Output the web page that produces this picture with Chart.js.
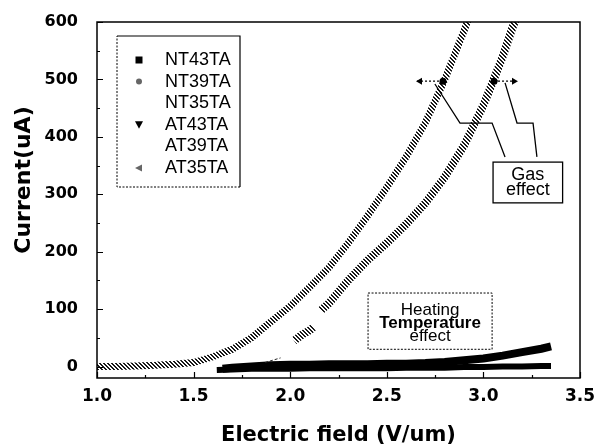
<!DOCTYPE html>
<html>
<head>
<meta charset="utf-8">
<script src="https://cdn.jsdelivr.net/npm/chart.js@4.4.1/dist/chart.umd.min.js"></script>
<style>
  html, body { margin: 0; padding: 0; background: #fff; }
  #wrap { width: 607px; height: 448px; }
</style>
</head>
<body>
<div id="wrap"><canvas id="chart"></canvas></div>
<script>
// axis setup
const xTicks = [1.0, 1.5, 2.0, 2.5, 3.0, 3.5];
const yTicks = [0, 100, 200, 300, 400, 500, 600];
const xTitle = 'Electric field (V/um)';
const yTitle = 'Current(uA)';
const seriesNames = ['NT43TA', 'NT39TA', 'NT35TA', 'AT43TA', 'AT39TA', 'AT35TA'];

// series (x in V/um, y in uA)
const nt43X = [1.62, 1.7, 1.8, 1.9, 2.0, 2.1, 2.2, 2.3, 2.4, 2.5, 2.6, 2.7, 2.8, 2.9, 3.0, 3.1, 3.2, 3.3, 3.35];
const nt43Y = [-6, -5, -4, -4, -4, -3, -3, -3, -3, -3, -2, -2, -2, -1, -1, 0, 0, 1, 1];

const nt39X = [2.02, 2.06, 2.1, 2.12, 2.14, 2.16, 2.2, 2.3, 2.4, 2.5, 2.6, 2.7, 2.8, 2.9, 3.0, 3.05, 3.1, 3.15, 3.18];
const nt39Y = [45, 55, 63, 68, null, 98, 110, 150, 185, 215, 248, 285, 330, 385, 455, 497, 540, 590, 615];

const nt35X = [1.87, 1.91, 1.95];
const nt35Y = [7, 11, 15];

const at43X = [1.65, 1.7, 1.8, 1.9, 2.0, 2.1, 2.2, 2.3, 2.4, 2.5, 2.6, 2.7, 2.8, 2.9, 3.0, 3.1, 3.2, 3.3, 3.35];
const at43Y = [-4, -2, 0, 2, 3, 3, 4, 4, 4, 5, 5, 6, 8, 11, 14, 19, 25, 31, 35];

const at39X = [];
const at39Y = [];

const at35X = [1.0, 1.1, 1.2, 1.3, 1.4, 1.5, 1.6, 1.7, 1.8, 1.9, 2.0, 2.1, 2.2, 2.3, 2.4, 2.5, 2.6, 2.7, 2.8, 2.9, 2.93];
const at35Y = [0, 0, 1, 2, 4, 7, 17, 30, 50, 78, 105, 138, 172, 215, 262, 312, 365, 425, 500, 585, 612];

function pts(xs, ys) {
    return xs.map((x, i) => ({ x: x, y: ys[i] }));
}

// hatched grey look of the scanned curves (stripes across the rising curves)
function hatch() {
    const c = document.createElement('canvas');
    c.width = 4; c.height = 4;
    const g = c.getContext('2d');
    g.fillStyle = '#ffffff';
    g.fillRect(0, 0, 4, 4);
    g.fillStyle = '#1a1a1a';
    for (let i = 0; i < 4; i++) {
        g.fillRect(i, i, 1, 1);
        g.fillRect((i + 1) % 4, i, 1, 1);
    }
    return g.createPattern(c, 'repeat');
}
const hatchPattern = hatch();

const boldFont = 'DejaVu Sans';
const textFont = '"Liberation Sans", Arial, sans-serif';

// frame, inward ticks, y title
const framePlugin = {
    id: 'frame',
    afterDatasetsDraw(chart) {
        const { ctx, chartArea: a, scales: { x, y } } = chart;
        ctx.save();
        ctx.strokeStyle = '#000';
        ctx.lineWidth = 1.5;
        ctx.strokeRect(a.left, a.top, a.right - a.left, a.bottom - a.top);
        ctx.lineWidth = 1.2;
        ctx.beginPath();
        for (let v = 1.0; v <= 3.5001; v += 0.25) {
            const px = Math.round(x.getPixelForValue(v)) + 0.5;
            const len = (Math.round(v * 4) % 2 === 0) ? 6 : 3;
            ctx.moveTo(px, a.bottom); ctx.lineTo(px, a.bottom - len);
        }
        for (let v = 0; v <= 600; v += 50) {
            const py = Math.round(y.getPixelForValue(v)) + 0.5;
            const len = (v % 100 === 0) ? 6 : 3;
            ctx.moveTo(a.left, py); ctx.lineTo(a.left + len, py);
        }
        ctx.stroke();
        ctx.translate(24, 180);
        ctx.rotate(-Math.PI / 2);
        ctx.fillStyle = '#000';
        ctx.font = 'bold 22px ' + boldFont;
        ctx.textAlign = 'center';
        ctx.textBaseline = 'middle';
        ctx.fillText(yTitle, 0, 0);
        ctx.restore();
    }
};

function marker(ctx, style, cx, cy) {
    ctx.save();
    ctx.fillStyle = style === 'rect' || style === 'tri' ? '#000' : '#666';
    ctx.beginPath();
    if (style === 'rect') {
        ctx.rect(cx - 3.5, cy - 3.5, 7, 7);
    } else if (style === 'circle') {
        ctx.arc(cx, cy, 3, 0, Math.PI * 2);
    } else if (style === 'tri') {
        ctx.moveTo(cx - 4, cy - 3.5); ctx.lineTo(cx + 4, cy - 3.5); ctx.lineTo(cx, cy + 4);
    } else if (style === 'ltri') {
        ctx.moveTo(cx - 4, cy); ctx.lineTo(cx + 3, cy - 3.5); ctx.lineTo(cx + 3, cy + 3.5);
    }
    if (style !== 'none') ctx.fill();
    ctx.restore();
}

// legend box inside the plot
const legendPlugin = {
    id: 'boxLegend',
    afterDatasetsDraw(chart) {
        const { ctx, chartArea: a } = chart;
        const left = a.left + 20, top = a.top + 14, w = 123, h = 151;
        ctx.save();
        ctx.fillStyle = '#fff';
        ctx.fillRect(left, top, w, h);
        ctx.strokeStyle = '#000';
        ctx.lineWidth = 1.2;
        ctx.beginPath();
        ctx.moveTo(left, top); ctx.lineTo(left + w, top); ctx.lineTo(left + w, top + h);
        ctx.stroke();
        ctx.setLineDash([2, 1.5]);
        ctx.lineWidth = 1;
        ctx.beginPath();
        ctx.moveTo(left + w, top + h); ctx.lineTo(left, top + h); ctx.lineTo(left, top);
        ctx.stroke();
        ctx.setLineDash([]);
        ctx.font = '18px ' + textFont;
        ctx.fillStyle = '#000';
        ctx.textBaseline = 'middle';
        chart.data.datasets.forEach((ds, i) => {
            const cy = top + 24 + i * 21.6;
            marker(ctx, ds.legendMarker, left + 22, cy);
            ctx.fillText(ds.label, left + 48, cy);
        });
        ctx.restore();
    }
};

// annotation positions in data units
const gasBox = { x0: 3.05, x1: 3.41, y0: 285, y1: 356 };
const gasDots = [{ x: 2.791, y: 497, tip: 2.651 }, { x: 3.055, y: 497, tip: 3.179 }];
const gasLine1 = [[2.749, 492], [2.879, 424], [3.045, 424], [3.112, 365]];
const gasLine2 = [[3.112, 494], [3.174, 424], [3.257, 424], [3.277, 365]];
const heatBox = { x0: 2.403, x1: 3.045, y0: 30, y1: 128 };

const notePlugin = {
    id: 'notes',
    afterDatasetsDraw(chart) {
        const { ctx, scales: { x, y } } = chart;
        const X = v => x.getPixelForValue(v), Y = v => y.getPixelForValue(v);
        ctx.save();
        ctx.strokeStyle = '#000';
        // gas effect box
        ctx.lineWidth = 1.3;
        ctx.fillStyle = '#fff';
        ctx.fillRect(X(gasBox.x0), Y(gasBox.y1), X(gasBox.x1) - X(gasBox.x0), Y(gasBox.y0) - Y(gasBox.y1));
        ctx.strokeRect(X(gasBox.x0), Y(gasBox.y1), X(gasBox.x1) - X(gasBox.x0), Y(gasBox.y0) - Y(gasBox.y1));
        ctx.fillStyle = '#000';
        ctx.font = '18px ' + textFont;
        ctx.textAlign = 'center';
        ctx.textBaseline = 'middle';
        const gx = (X(gasBox.x0) + X(gasBox.x1)) / 2;
        ctx.fillText('Gas', gx, Y(gasBox.y1) + 13);
        ctx.fillText('effect', gx, Y(gasBox.y1) + 28);
        // connector lines
        [gasLine1, gasLine2].forEach(l => {
            ctx.beginPath();
            l.forEach((p, i) => i ? ctx.lineTo(X(p[0]), Y(p[1])) : ctx.moveTo(X(p[0]), Y(p[1])));
            ctx.stroke();
        });
        // dots with dashed arrows
        gasDots.forEach(d => {
            const px = X(d.x), py = Y(d.y), tx = X(d.tip);
            ctx.setLineDash([2, 2]);
            ctx.beginPath(); ctx.moveTo(px, py); ctx.lineTo(tx, py); ctx.stroke();
            ctx.setLineDash([]);
            const dir = tx < px ? -1 : 1;
            ctx.beginPath();
            ctx.moveTo(tx, py); ctx.lineTo(tx - dir * 6, py - 3.5); ctx.lineTo(tx - dir * 6, py + 3.5);
            ctx.closePath(); ctx.fill();
            ctx.beginPath(); ctx.arc(px, py, 3.5, 0, Math.PI * 2); ctx.fill();
        });
        // heating box
        ctx.lineWidth = 1;
        ctx.setLineDash([2, 1.5]);
        ctx.fillStyle = '#fff';
        ctx.fillRect(X(heatBox.x0), Y(heatBox.y1), X(heatBox.x1) - X(heatBox.x0), Y(heatBox.y0) - Y(heatBox.y1));
        ctx.strokeRect(X(heatBox.x0), Y(heatBox.y1), X(heatBox.x1) - X(heatBox.x0), Y(heatBox.y0) - Y(heatBox.y1));
        ctx.setLineDash([]);
        ctx.fillStyle = '#000';
        const hx = (X(heatBox.x0) + X(heatBox.x1)) / 2;
        const ht = Y(heatBox.y1);
        ctx.font = '17px ' + textFont;
        ctx.fillText('Heating', hx, ht + 17);
        ctx.font = 'bold 17px ' + textFont;
        ctx.fillText('Temperature', hx, ht + 30);
        ctx.font = '17px ' + textFont;
        ctx.fillText('effect', hx, ht + 43);
        ctx.restore();
    }
};

new Chart(document.getElementById('chart'), {
    type: 'scatter',
    data: {
        datasets: [
            { label: seriesNames[0], data: pts(nt43X, nt43Y), showLine: true, borderColor: '#000', borderWidth: 6, pointRadius: 0, legendMarker: 'rect' },
            { label: seriesNames[1], data: pts(nt39X, nt39Y), showLine: true, borderColor: hatchPattern, borderWidth: 8, pointRadius: 0, legendMarker: 'circle' },
            { label: seriesNames[2], data: pts(nt35X, nt35Y), showLine: true, borderColor: '#222', borderWidth: 1, borderDash: [3, 2], pointRadius: 0, legendMarker: 'none' },
            { label: seriesNames[3], data: pts(at43X, at43Y), showLine: true, borderColor: '#000', borderWidth: 8, pointRadius: 0, legendMarker: 'tri' },
            { label: seriesNames[4], data: pts(at39X, at39Y), showLine: true, borderColor: '#000', borderWidth: 1, pointRadius: 0, legendMarker: 'none' },
            { label: seriesNames[5], data: pts(at35X, at35Y), showLine: true, borderColor: hatchPattern, borderWidth: 7, pointRadius: 0, legendMarker: 'ltri' }
        ]
    },
    options: {
        responsive: true,
        maintainAspectRatio: false,
        animation: false,
        layout: { padding: { left: 0, right: 27, top: 22, bottom: 0 } },
        plugins: { legend: { display: false }, tooltip: { enabled: false } },
        scales: {
            x: {
                type: 'linear', min: 1.0, max: 3.5,
                afterBuildTicks: s => { s.ticks = xTicks.map(v => ({ value: v })); },
                afterFit: s => { s.height = 70; s.paddingLeft = 0; s.paddingRight = 0; },
                grid: { display: false, drawTicks: false },
                border: { display: false },
                ticks: { color: '#000', padding: 8, font: { family: boldFont, size: 17, weight: 'bold' }, callback: v => v.toFixed(1) },
                title: { display: true, text: xTitle, color: '#000', padding: { top: 0, bottom: 0 }, font: { family: boldFont, size: 21, weight: 'bold' } }
            },
            y: {
                type: 'linear', min: -20, max: 600,
                afterBuildTicks: s => { s.ticks = yTicks.map(v => ({ value: v })); },
                afterFit: s => { s.width = 97; s.paddingTop = 0; s.paddingBottom = 0; },
                grid: { display: false, drawTicks: false },
                border: { display: false },
                ticks: { color: '#000', padding: 19, font: { family: boldFont, size: 16, weight: 'bold' } }
            }
        }
    },
    plugins: [framePlugin, legendPlugin, notePlugin]
});
</script>
</body>
</html>
